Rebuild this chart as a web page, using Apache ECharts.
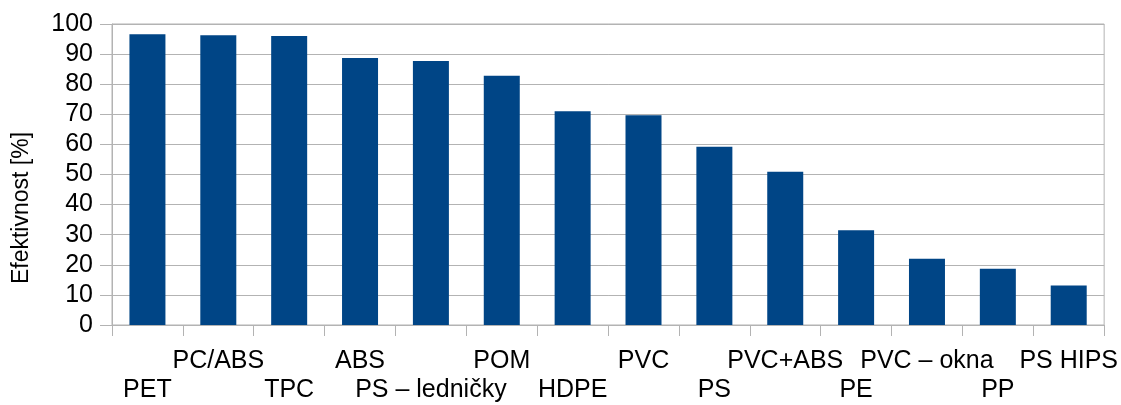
<!DOCTYPE html>
<html>
<head>
<meta charset="utf-8">
<script src="https://cdn.jsdelivr.net/npm/echarts@6/dist/echarts.min.js"></script>
<style>
  html, body { margin: 0; padding: 0; background: #fff; }
  #chart { width: 1121px; height: 405px; }
</style>
</head>
<body>
<div id="chart"></div>
<script>
// Materials and their sorting efficiency
const categories = ['PET', 'PC/ABS', 'TPC', 'ABS', 'PS – ledničky', 'POM', 'HDPE', 'PVC',
                    'PS', 'PVC+ABS', 'PE', 'PVC – okna', 'PP', 'PS HIPS'];
const efficiency = [96.6, 96.3, 96.0, 88.7, 87.7, 82.8, 71.0, 69.7, 59.2, 50.9, 31.5, 22.0, 18.7, 13.1];
const yTicks = { min: 0, max: 100, interval: 10 };
const yTitle = 'Efektivnost [%]';

const FONT = '"Liberation Sans", Arial, sans-serif';
const GRID_COLOR = '#b3b3b3';

const chart = echarts.init(document.getElementById('chart'), null, { renderer: 'canvas' });
chart.setOption({
  animation: false,
  textStyle: { fontFamily: FONT },
  grid: {
    left: 112, right: 16, top: 24, bottom: 76,
    show: true, borderColor: GRID_COLOR, borderWidth: 1, backgroundColor: 'transparent'
  },
  xAxis: {
    type: 'category',
    data: categories,
    boundaryGap: true,
    axisLine: { lineStyle: { color: GRID_COLOR, width: 1 } },
    axisTick: { show: true, length: 11, interval: 0, lineStyle: { color: GRID_COLOR } },
    axisLabel: {
      interval: 0,
      margin: 22,
      color: '#000',
      fontSize: 25,
      lineHeight: 29,
      fontFamily: FONT,
      // alternate labels between two rows
      formatter: (value, index) => (index % 2 === 1 ? value : '\n' + value)
    },
    splitLine: { show: false }
  },
  yAxis: {
    type: 'value',
    min: yTicks.min,
    max: yTicks.max,
    interval: yTicks.interval,
    axisLine: { show: true, lineStyle: { color: GRID_COLOR, width: 1 } },
    axisTick: { show: true, length: 12, lineStyle: { color: GRID_COLOR } },
    axisLabel: { margin: 19, color: '#000', fontSize: 25, fontFamily: FONT },
    splitLine: { show: true, lineStyle: { color: GRID_COLOR, width: 1 } }
  },
  graphic: [{
    type: 'text',
    x: 22, y: 208,
    rotation: Math.PI / 2,
    style: {
      text: yTitle,
      fill: '#000',
      font: '23px ' + FONT,
      textAlign: 'center',
      textVerticalAlign: 'middle'
    }
  }],
  series: [{
    type: 'bar',
    data: efficiency,
    barWidth: 36,
    itemStyle: { color: '#004586' }
  }]
});
</script>
</body>
</html>
